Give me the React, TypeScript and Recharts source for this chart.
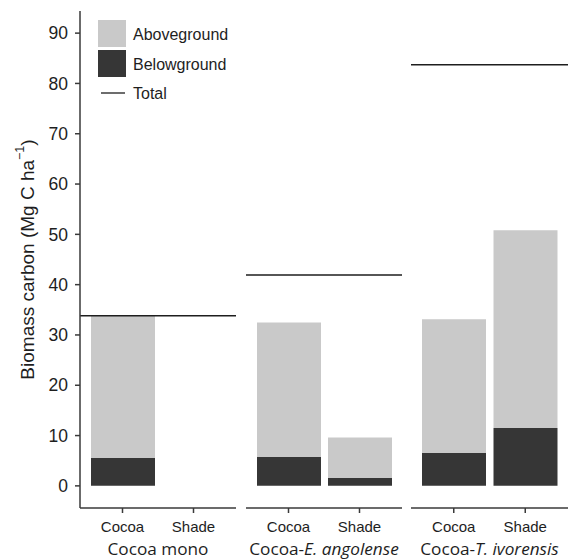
import React from 'react';
import { BarChart, Bar, XAxis, YAxis, ReferenceLine, Legend, Label } from 'recharts';

// values (Mg C / ha)
const systems = ['Cocoa mono', 'Cocoa-E. angolense', 'Cocoa-T. ivorensis'];
const components = ['Cocoa', 'Shade'];
const belowground = [
  [5.6, 0],
  [5.8, 1.6],
  [6.6, 11.5],
];
const aboveground = [
  [28.2, 0],
  [26.7, 8.0],
  [26.5, 39.3],
];
const totals = [33.8, 41.9, 83.7];
const yTicks = [0, 10, 20, 30, 40, 50, 60, 70, 80, 90];

const LIGHT = '#c9c9c9';
const DARK = '#363636';
const INK = '#1e1e1e';
const AXIS = '#3a3a3a';
const SANS = '"Liberation Sans", Arial, sans-serif';

const H = 560;
const TOP = 11;
const XAXIS_H = 52;

const FacetLabel = ({ viewBox, name }: any) => {
  const cx = viewBox.x + viewBox.width / 2;
  const parts = name.split('-');
  return (
    <text x={cx} y={viewBox.y + 47} textAnchor="middle" fontSize={17.2} fill={INK} fontFamily='"Open Sans", sans-serif'>
      {parts.length === 1 ? (
        name
      ) : (
        <>
          <tspan>{parts[0] + '-'}</tspan>
          <tspan fontStyle="italic">{parts[1]}</tspan>
        </>
      )}
    </text>
  );
};

const YTitle = ({ viewBox }: any) => {
  const x = viewBox.x + 27;
  const y = viewBox.y + viewBox.height / 2;
  return (
    <text x={x} y={y} transform={`rotate(-90 ${x} ${y})`} textAnchor="middle" dominantBaseline="central" fontSize={19} fill={INK} fontFamily={SANS}>
      Biomass carbon (Mg C ha
      <tspan dy={-7} fontSize={12.5}>−1</tspan>
      <tspan dy={7}>)</tspan>
    </text>
  );
};

const LegendBox = () => (
  <svg width={150} height={90} style={{ display: 'block' }}>
    <rect x={2} y={2} width={28} height={27} fill={LIGHT} />
    <rect x={2} y={32} width={28} height={27} fill={DARK} />
    <line x1={5} x2={29} y1={75} y2={75} stroke={INK} strokeWidth={1.3} />
    <g fontFamily={SANS} fontSize={16} fill={INK} dominantBaseline="central">
      <text x={37} y={16}>Aboveground</text>
      <text x={37} y={46}>Belowground</text>
      <text x={37} y={75}>Total</text>
    </g>
  </svg>
);

type PanelProps = { idx: number; plotLeft: number; plotWidth: number; first?: boolean };

const Panel = ({ idx, plotLeft, plotWidth, first }: PanelProps) => {
  const data = components.map((c, j) => ({
    name: c,
    below: belowground[idx][j],
    above: aboveground[idx][j],
  }));
  const yw = first ? plotLeft : 0;
  const left = first ? 0 : plotLeft - 12;
  const width = first ? plotLeft + plotWidth : plotWidth + 24;
  return (
    <div style={{ position: 'absolute', left, top: 0 }}>
      <BarChart
        width={width}
        height={H}
        data={data}
        margin={{ top: TOP, right: first ? 0 : 12, left: first ? 0 : 12, bottom: 0 }}
        barSize={64}
        style={{ overflow: 'visible' }}
      >
        <XAxis
          dataKey="name"
          height={XAXIS_H}
          padding={{ left: 7, right: 7 }}
          tickSize={5}
          tickMargin={8}
          tick={{ fontSize: 15, fill: INK, fontFamily: SANS }}
          axisLine={{ stroke: AXIS, strokeWidth: 1.5 }}
          tickLine={{ stroke: AXIS, strokeWidth: 1.5 }}
        >
          <Label content={(p: any) => <FacetLabel {...p} name={systems[idx]} />} />
        </XAxis>
        <YAxis
          hide={!first}
          width={yw}
          type="number"
          domain={[-4.4, 94.4]}
          allowDataOverflow
          ticks={yTicks}
          interval={0}
          tickSize={5}
          tickMargin={7}
          tick={{ fontSize: 17.5, fill: INK, fontFamily: SANS }}
          axisLine={{ stroke: AXIS, strokeWidth: 1.5 }}
          tickLine={{ stroke: AXIS, strokeWidth: 1.5 }}
        >
          {first && <Label content={(p: any) => <YTitle {...p} />} />}
        </YAxis>
        <Bar dataKey="below" stackId="s" fill={DARK} isAnimationActive={false} />
        <Bar dataKey="above" stackId="s" fill={LIGHT} isAnimationActive={false} />
        <ReferenceLine y={totals[idx]} stroke={INK} strokeWidth={1.5} />
        {first && (
          <Legend
            layout="vertical"
            align="center"
            verticalAlign="middle"
            content={() => <LegendBox />}
            wrapperStyle={{ left: 96, top: 18, width: 150, height: 90 }}
          />
        )}
      </BarChart>
    </div>
  );
};

export default function App() {
  return (
    <div style={{ position: 'absolute', left: 0, top: 0, width: 581, height: 560, background: '#fff' }}>
      <Panel idx={0} plotLeft={80} plotWidth={156} first />
      <Panel idx={1} plotLeft={245.5} plotWidth={156} />
      <Panel idx={2} plotLeft={411} plotWidth={157} />
    </div>
  );
}
